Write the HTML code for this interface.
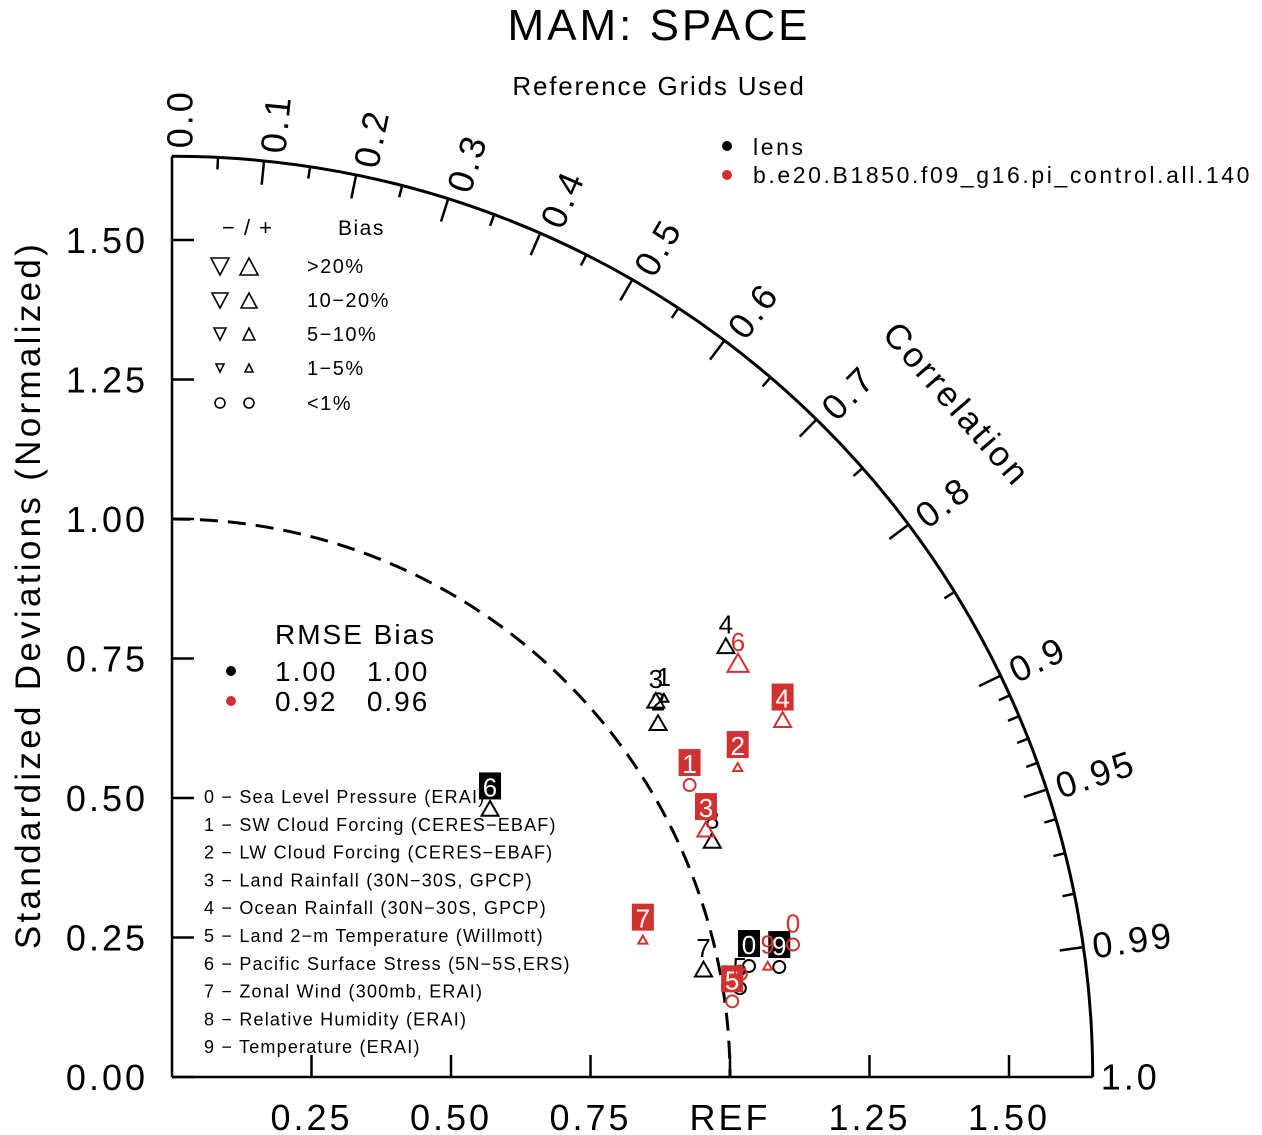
<!DOCTYPE html>
<html><head><meta charset="utf-8"><title>MAM: SPACE Taylor diagram</title>
<style>
html,body{margin:0;padding:0;background:#fff;}
svg{display:block;font-family:"Liberation Sans",sans-serif;}
</style></head>
<body>
<svg id="chart" width="1262" height="1135" viewBox="0 0 1262 1135" xmlns="http://www.w3.org/2000/svg">
<text x="659" y="40" font-size="44" text-anchor="middle" letter-spacing="3">MAM:  SPACE</text>
<text x="659" y="95" font-size="26" text-anchor="middle" letter-spacing="1.8">Reference  Grids  Used</text>
<text transform="translate(40,595) rotate(-90)" font-size="35" text-anchor="middle" letter-spacing="3.3">Standardized  Deviations  (Normalized)</text>
<text transform="translate(948,412) rotate(49)" font-size="35" text-anchor="middle" letter-spacing="3">Correlation</text>
<g id="axes"></g>
<g id="marks"></g>
<g letter-spacing="2.6">
<circle cx="727" cy="146" r="5" fill="#000"/>
<text x="753" y="155" font-size="23">lens</text>
<circle cx="727" cy="175" r="5" fill="#d03232"/>
<text x="753" y="183" font-size="23">b.e20.B1850.f09_g16.pi_control.all.140</text>
</g>
<g font-size="20" fill="none" stroke="#000" stroke-width="1.6" letter-spacing="1.5">
<text x="222" y="235" stroke="none" fill="#000" font-size="22">−  /  +</text>
<text x="338" y="235" stroke="none" fill="#000" font-size="21">Bias</text>
<polygon points="211,258 229,258 220,275"/><polygon points="240,275 258,275 249,258"/>
<text x="307" y="273" stroke="none" fill="#000">&gt;20%</text>
<polygon points="212,293 228,293 220,308"/><polygon points="241,308 257,308 249,293"/>
<text x="307" y="307" stroke="none" fill="#000">10−20%</text>
<polygon points="214,328 226,328 220,340"/><polygon points="243,340 255,340 249,328"/>
<text x="307" y="341" stroke="none" fill="#000">5−10%</text>
<polygon points="216,364 224,364 220,372"/><polygon points="245,372 253,372 249,364"/>
<text x="307" y="375" stroke="none" fill="#000">1−5%</text>
<circle cx="220" cy="403" r="5"/><circle cx="249" cy="403" r="5"/>
<text x="307" y="410" stroke="none" fill="#000">&lt;1%</text>
</g>
<g font-size="28" letter-spacing="2">
<text x="275" y="644">RMSE Bias</text>
<circle cx="231" cy="671" r="5" fill="#000"/>
<text x="275" y="681" xml:space="preserve">1.00   1.00</text>
<circle cx="231" cy="701" r="5" fill="#d03232"/>
<text x="275" y="711" xml:space="preserve">0.92   0.96</text>
</g>
<g id="varlist" font-size="18" letter-spacing="1.2"></g>
</svg>
<script>
const categories = ["Sea Level Pressure (ERAI)","SW Cloud Forcing (CERES−EBAF)","LW Cloud Forcing (CERES−EBAF)","Land Rainfall (30N−30S, GPCP)","Ocean Rainfall (30N−30S, GPCP)","Land 2−m Temperature (Willmott)","Pacific Surface Stress (5N−5S,ERS)","Zonal Wind (300mb, ERAI)","Relative Humidity (ERAI)","Temperature (ERAI)"];
const lensStd  = [1.053,1.113,1.078,1.099,1.258,1.030,0.746,0.972,1.057,1.106];
const lensCorr = [0.982,0.792,0.808,0.789,0.789,0.988,0.764,0.980,0.916,0.984];
const lensBias = [0.5,3,12,12,15,0.5,12,12,12,0.5];
const lensBoxed = [1,0,0,0,0,0,1,0,0,1];
const lensLabeled = [1,1,1,1,1,1,1,1,1,1];
const ctrlStd  = [1.138,1.065,1.156,1.055,1.268,1.013,1.257,0.879,1.036,1.086];
const ctrlCorr = [0.978,0.871,0.877,0.907,0.863,0.991,0.807,0.960,0.984,0.983];
const ctrlBias = [0.5,0.5,3,12,12,0.5,25,3,0.5,3];
const ctrlBoxed = [0,1,1,1,1,1,0,1,0,0];
const ctrlLabeled = [1,1,1,1,1,1,1,1,0,1];
const stdTicks = [0.25,0.50,0.75,1.00,1.25,1.50];
const stdTickLabels = ["0.25","0.50","0.75","REF","1.25","1.50"];
const yTickValues = [0.00,0.25,0.50,0.75,1.00,1.25,1.50];
const corrMajor = [0.0,0.1,0.2,0.3,0.4,0.5,0.6,0.7,0.8,0.9,0.95,0.99,1.0];
const corrMinor = [0.05,0.15,0.25,0.35,0.45,0.55,0.65,0.75,0.85,0.91,0.92,0.93,0.94,0.96,0.97,0.98];
const maxStd = 1.65;

const NS="http://www.w3.org/2000/svg";
const OX=172, OY=1077, S=558;
const sx = v => OX + v*S;
const sy = v => OY - v*S;
function mk(tag, attrs, parent){const e=document.createElementNS(NS,tag);for(const k in attrs)e.setAttribute(k,attrs[k]);parent.appendChild(e);return e;}
const axes=document.getElementById('axes');
const R=maxStd*S;
let p=mk('path',{d:`M${OX},${OY-R} A${R},${R} 0 0 1 ${OX+R},${OY}`,fill:'none',stroke:'#000','stroke-width':3},axes);


p=mk('line',{x1:OX,y1:OY,x2:OX+R,y2:OY,stroke:'#000','stroke-width':2.5},axes);


p=mk('line',{x1:OX,y1:OY,x2:OX,y2:OY-R,stroke:'#000','stroke-width':2.5},axes);


p=mk('path',{d:`M${OX},${sy(1)} A${S},${S} 0 0 1 ${sx(1)},${OY}`,fill:'none',stroke:'#000','stroke-width':3,'stroke-dasharray':'18,10'},axes);


stdTicks.forEach((v,i)=>{
  let t=mk('line',{x1:sx(v),y1:OY,x2:sx(v),y2:OY-22,stroke:'#000','stroke-width':2.5},axes);
  
  
  let l=mk('text',{x:sx(v),y:1130,'font-size':36,'text-anchor':'middle','letter-spacing':3},axes);
  l.textContent=stdTickLabels[i];
  
  
});
yTickValues.forEach(v=>{
  let t=mk('line',{x1:OX,y1:sy(v),x2:OX+22,y2:sy(v),stroke:'#000','stroke-width':2.5},axes);
  
  
  let l=mk('text',{x:148,y:sy(v)+13,'font-size':36,'text-anchor':'end','letter-spacing':3},axes);
  l.textContent=v.toFixed(2);
  
  
});
function corrTick(c,len){
  const th=Math.acos(c);
  const x1=OX+R*Math.cos(th), y1=OY-R*Math.sin(th);
  const x2=OX+(R-len)*Math.cos(th), y2=OY-(R-len)*Math.sin(th);
  return mk('line',{x1,y1,x2,y2,stroke:'#000','stroke-width':2.5},axes);
}
corrMajor.forEach(c=>{
  if(c>0&&c<1){let t=corrTick(c,24);
  
  }
  const th=Math.acos(c), deg=th*180/Math.PI;
  const r=R+8;
  const x=OX+r*Math.cos(th)+8*Math.sin(th), y=OY-r*Math.sin(th);
  let l=mk('text',{x:0,y:0,'font-size':36,'letter-spacing':3,'dominant-baseline':'central',transform:`translate(${x},${y}) rotate(${-deg})`},axes);
  l.textContent=(c===0.95||c===0.99)?c.toFixed(2):c.toFixed(1);
  
  
});
corrMinor.forEach(c=>{let t=corrTick(c,12);
  
  });
const vl=document.getElementById('varlist');
categories.forEach((n,i)=>{
  let t=mk('text',{x:204,y:803+i*27.8},vl);
  t.textContent=i+"  −  "+n;
  
  
});
const marks=document.getElementById('marks');
function size(b){return b<1?0:b<5?9:b<10?13:b<20?17:21;}
function drawSeries(stds,corrs,bias,boxed,labeled,col,name){
  const g=mk('g',{},marks);
  
  
  stds.forEach((s,i)=>{
    const x=sx(s*corrs[i]), y=sy(s*Math.sqrt(1-corrs[i]*corrs[i]));
    const z=size(bias[i]);
    let m;
    if(z===0) m=mk('circle',{cx:x,cy:y,r:6,fill:'none',stroke:col,'stroke-width':2},g);
    else { const h=z*0.87; m=mk('polygon',{points:`${x-z/2},${y+h/2} ${x+z/2},${y+h/2} ${x},${y-h/2}`,fill:'none',stroke:col,'stroke-width':2},g); }
    
    
    if(!labeled[i]) return;
    const ly=y-22;
    if(boxed[i]){
      let b=mk('rect',{x:x-11,y:ly-14,width:22,height:27,fill:col},g);
      
      
    }
    let t=mk('text',{x:x,y:ly+10,'font-size':26,'text-anchor':'middle',fill:boxed[i]?'#fff':col},g);
    t.textContent=i;
    
    
  });
}
drawSeries(lensStd,lensCorr,lensBias,lensBoxed,lensLabeled,'#000','series-lens');
drawSeries(ctrlStd,ctrlCorr,ctrlBias,ctrlBoxed,ctrlLabeled,'#d03232','series-control');
</script>
</body></html>
